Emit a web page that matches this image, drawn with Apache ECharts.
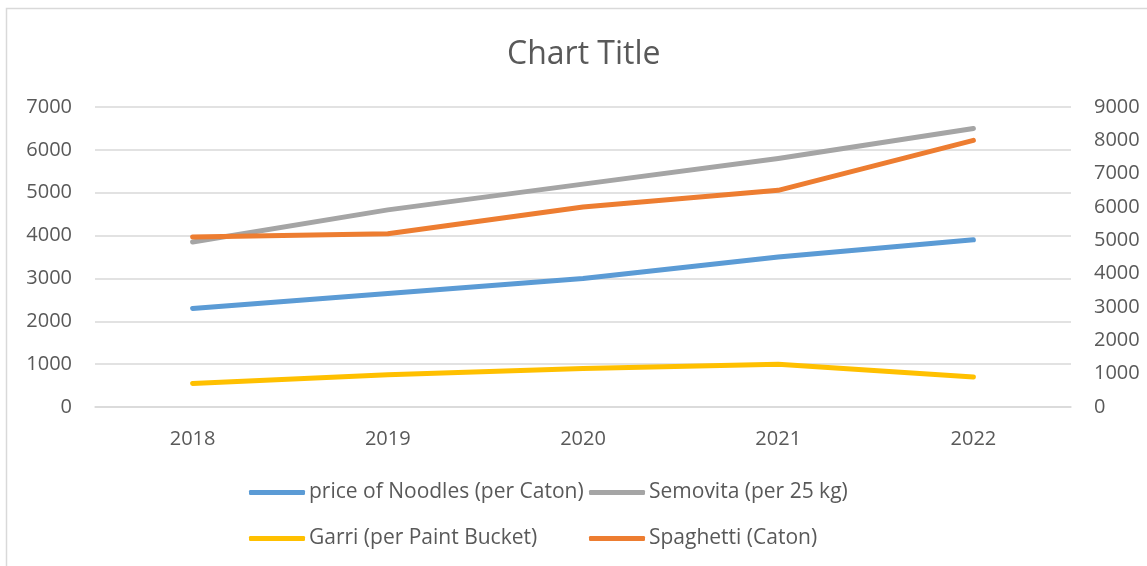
<!DOCTYPE html>
<html>
<head>
<meta charset="utf-8">
<title>Chart Title</title>
<script src="https://cdn.jsdelivr.net/npm/echarts@6/dist/echarts.min.js"></script>
<style>
  html, body { margin: 0; padding: 0; background: #ffffff; }
  #chart { width: 1147px; height: 566px; }
</style>
</head>
<body>
<div id="chart"></div>
<script>
// Years on the category axis
var years = ['2018', '2019', '2020', '2021', '2022'];

// Prices per item (left axis unless noted)
var noodles = [2300, 2650, 3000, 3500, 3900];
var semovita = [3850, 4600, 5200, 5800, 6500];
var garri = [550, 750, 900, 1000, 700];
// Spaghetti is plotted against the right axis
var spaghetti = [5100, 5200, 6000, 6500, 8000];

var seriesNames = [
  'price of Noodles (per Caton)',
  'Semovita (per 25 kg)',
  'Garri (per Paint Bucket)',
  'Spaghetti (Caton)'
];
var seriesColors = ['#5B9BD5', '#A5A5A5', '#FFC000', '#ED7D31'];

var FONT = '"Open Sans", "Liberation Sans", sans-serif';
var TEXT_COLOR = '#595959';
var GRID_COLOR = '#D9D9D9';

// Plain integers, no thousands separator
function plainNumber(v) { return String(v); }

function lineSeries(idx, data, axisIdx) {
  return {
    name: seriesNames[idx],
    type: 'line',
    yAxisIndex: axisIdx,
    data: data,
    symbol: 'none',
    smooth: false,
    color: seriesColors[idx],
    lineStyle: { width: 5, color: seriesColors[idx], cap: 'round', join: 'round' },
    z: 3
  };
}

function legendItem(idx, left, top) {
  return {
    data: [seriesNames[idx]],
    left: left,
    top: top,
    icon: 'roundRect',
    itemWidth: 56,
    itemHeight: 5,
    padding: 0,
    itemStyle: { color: seriesColors[idx] },
    textStyle: { color: TEXT_COLOR, fontFamily: FONT, fontSize: 21, padding: [0, 0, 0, -1] },
    selectedMode: false
  };
}

var chart = echarts.init(document.getElementById('chart'), null, { renderer: 'canvas' });

chart.setOption({
  animation: false,
  backgroundColor: '#ffffff',
  graphic: [{
    type: 'rect',
    shape: { x: 6.5, y: 8.5, width: 1200, height: 600 },
    style: { fill: 'none', stroke: GRID_COLOR, lineWidth: 1.5 },
    silent: true,
    z: -10
  }],
  title: {
    text: 'Chart Title',
    left: 502,
    top: 34,
    textStyle: { color: TEXT_COLOR, fontFamily: FONT, fontSize: 32, fontWeight: 'normal' }
  },
  legend: [
    legendItem(0, 249, 482),
    legendItem(1, 589, 482),
    legendItem(2, 249, 528),
    legendItem(3, 589, 528)
  ],
  grid: { left: 95, right: 76, top: 107, bottom: 159, containLabel: false },
  xAxis: {
    type: 'category',
    data: years,
    boundaryGap: true,
    axisLine: { show: true, lineStyle: { color: GRID_COLOR, width: 1.5 } },
    axisTick: { show: false },
    axisLabel: { color: TEXT_COLOR, fontFamily: FONT, fontSize: 20, margin: 22 },
    splitLine: { show: false }
  },
  yAxis: [
    {
      type: 'value',
      position: 'left',
      min: 0,
      max: 7000,
      interval: 1000,
      axisLine: { show: false },
      axisTick: { show: false },
      axisLabel: { color: TEXT_COLOR, fontFamily: FONT, fontSize: 20, margin: 23, formatter: plainNumber },
      splitLine: { show: true, lineStyle: { color: GRID_COLOR, width: 1.5 } }
    },
    {
      type: 'value',
      position: 'right',
      min: 0,
      max: 9000,
      interval: 1000,
      axisLine: { show: false },
      axisTick: { show: false },
      axisLabel: { color: TEXT_COLOR, fontFamily: FONT, fontSize: 20, margin: 23, formatter: plainNumber },
      splitLine: { show: false }
    }
  ],
  series: [
    lineSeries(0, noodles, 0),
    lineSeries(1, semovita, 0),
    lineSeries(2, garri, 0),
    lineSeries(3, spaghetti, 1)
  ]
});
</script>
</body>
</html>
